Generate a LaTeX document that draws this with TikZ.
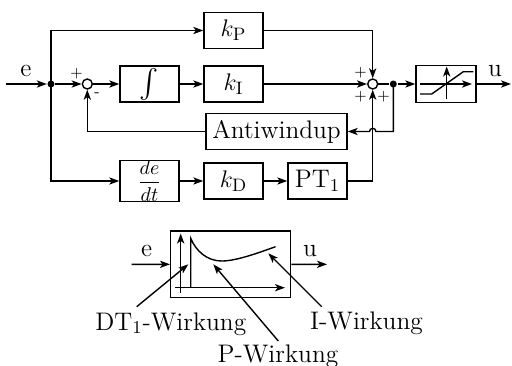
\documentclass[tikz,border=0pt]{standalone}
\usepackage{exscale}
\usetikzlibrary{arrows.meta}
\begin{document}
\begin{tikzpicture}[x=0.5pt,y=-0.5pt,
  line width=0.7pt,
  >={Stealth[length=5pt,width=3.6pt,inset=1.3pt]},
  blk/.style={draw,minimum width=29.5pt,minimum height=18pt,inner sep=0pt,font=\fontsize{12.7}{14}\selectfont},
  sumc/.style={draw,circle,minimum size=5pt,inner sep=0pt},
  dot/.style={fill,circle,minimum size=3.5pt,inner sep=0pt},
  sgn/.style={font=\fontsize{7.5}{8}\selectfont,inner sep=0pt},
  lbl/.style={font=\fontsize{12.7}{14}\selectfont,inner sep=0pt,anchor=base},
]
\useasboundingbox (0,0) rectangle (512,365);
% upper diagram
\coordinate (in) at (6,84);
\node[dot] (j1) at (51,84) {};
\node[sumc] (s1) at (87.3,84) {};
\node[blk,font=\fontsize{14.5}{17}\selectfont] (int) at (149.5,84) {$\int$};
\node[blk] (kI) at (233.5,84) {$k_{\mathrm{I}}$};
\node[blk] (kP) at (233.5,30.5) {$k_{\mathrm{P}}$};
\node[blk,minimum width=70.5pt] (aw) at (276.5,131.5) {Antiwindup};
\node[blk,font=\fontsize{10}{12}\selectfont] (ddt) at (149.5,181) {$\displaystyle\frac{de}{dt}$};
\node[blk] (kD) at (233.5,181) {$k_{\mathrm{D}}$};
\node[blk] (pt) at (317.5,181) {PT$_1$};
\node[sumc] (s2) at (372.7,84) {};
\node[dot] (j2) at (393.3,84) {};
\node[draw,minimum width=30pt,minimum height=18.5pt,inner sep=0pt] (sat) at (446,84) {};
\coordinate (out) at (511,84);
\coordinate (hop) at (s2 |- aw);

\draw[->] (in) -- (j1);
\draw[->] (j1) -- (s1);
\draw[->] (s1) -- (int);
\draw[->] (int) -- (kI);
\draw[->] (kI) -- (s2);
\draw[->] (j1.center) |- (kP);
\draw[->] (j1.center) |- (ddt);
\draw[->] (ddt) -- (kD);
\draw[->] (kD) -- (pt);
\draw[->] (kP) -| (s2);
\draw[->] (pt) -| (s2);
\draw (s2) -- (j2);
\draw[->] (j2) -- (sat);
\draw[->] (sat) -- (out);
\draw[->] (j2.center) |- ([xshift=1.6pt]hop) arc[start angle=0,end angle=180,radius=1.6pt] -- (aw);
\draw[->] (aw) -| (s1);

\node[sgn] at (76.5,74) {+};
\node[sgn] at (97,95) {-};
\node[sgn] at (360.5,73) {+};
\node[sgn] at (360.5,97) {+};
\node[sgn] at (383.5,97) {+};
\node[lbl] at (26,76) {e};
\node[lbl] at (495,76) {u};

% saturation symbol
\draw[->] (420,84) -- (472,84);
\draw[->] (446.7,99) -- (446.7,66.5);
\draw (420,94) -- (431.7,94) -- (463.3,71.7) -- (473.3,71.7);

% lower diagram
\node[draw,minimum width=60pt,minimum height=33.35pt,inner sep=0pt] (sb) at (230.7,264.35) {};
\coordinate (ein) at (131.7,264.3);
\coordinate (uout) at (327,264.3);
\draw[->] (ein) -- (sb);
\draw[->] (sb) -- (uout);
\node[lbl] at (146.7,256) {e};
\node[lbl] at (310,256) {u};
\draw[->] (180.7,293) -- (180.7,233.5);
\draw[->] (175,287.7) -- (285,287.7);
\draw (190.7,287.7) -- (190.7,238.3) .. controls (196,251) and (207,261) .. (221.7,261) .. controls (236,261) and (258,253) .. (275.5,246.7);

\node[lbl] (dtl) at (170.8,330) {DT$_1$-Wirkung};
\node[lbl] (pl) at (278,362) {P-Wirkung};
\node[lbl] (il) at (366.5,329.5) {I-Wirkung};
\coordinate (dts) at (136.7,306.7);
\coordinate (dte) at (188.3,264.3);
\coordinate (ps) at (278.3,341);
\coordinate (pe) at (213.3,264.3);
\coordinate (is) at (321.7,306.7);
\coordinate (ie) at (268.3,253.3);
\draw[->] (dts) -- (dte);
\draw[->] (ps) -- (pe);
\draw[->] (is) -- (ie);
\end{tikzpicture}
\end{document}
